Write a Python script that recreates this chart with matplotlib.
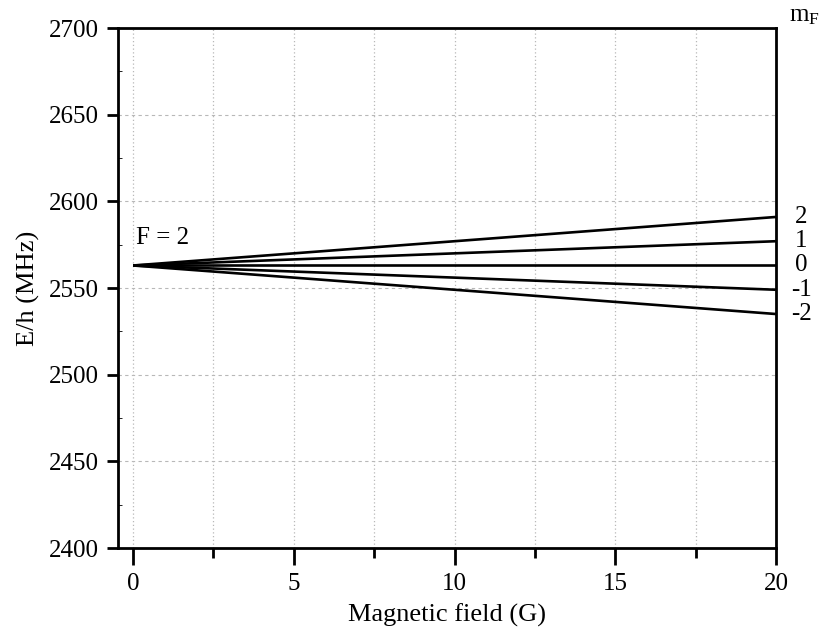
import numpy as np
import matplotlib
matplotlib.use("Agg")
import matplotlib.pyplot as plt
from matplotlib.ticker import MultipleLocator

plt.rcParams['font.family'] = ['Liberation Serif', 'DejaVu Serif']
plt.rcParams['mathtext.fontset'] = 'stix'

# Zeeman splitting of the F = 2 level: energy at B = 0 and B = 20 G
field = [0, 20]
m_F = [2, 1, 0, -1, -2]
energy_start = [2563, 2563, 2563, 2563, 2563]
energy_end = [2591, 2577, 2563, 2549, 2535]

fig = plt.figure(figsize=(8.2, 6.37), dpi=100)
ax = fig.add_axes([0.1439, 0.1397, 0.8024, 0.8163])

for m, e0, e1 in zip(m_F, energy_start, energy_end):
    ax.plot(field, [e0, e1], color='black', lw=1.9, solid_capstyle='butt')
    ax.text(20.78, e1, str(m), fontsize=18, va='center', ha='center',
            clip_on=False)

ax.text(20.4, 2703.5, r'm$_{\mathregular{F}}$', fontsize=18, ha='left',
        va='baseline', clip_on=False)
ax.text(0.1, 2575.5, 'F = 2', fontsize=18)

ax.set_xlim(-0.47, 20)
ax.set_ylim(2400, 2700)
ax.xaxis.set_major_locator(MultipleLocator(5))
ax.xaxis.set_minor_locator(MultipleLocator(2.5))
ax.yaxis.set_major_locator(MultipleLocator(50))
ax.yaxis.set_minor_locator(MultipleLocator(25))

ax.grid(True, axis='x', which='both', color='#b8b8b8', ls=(0, (1, 2)), lw=0.9)
ax.grid(True, axis='y', which='major', color='#b8b8b8', ls=(0, (3, 3)), lw=0.8)
ax.set_axisbelow(True)

for s in ax.spines.values():
    s.set_linewidth(2.0)
ax.tick_params(axis='both', which='major', direction='out', width=2.0,
               labelsize=18, pad=6)
ax.tick_params(axis='x', which='major', length=12)
ax.tick_params(axis='y', which='major', length=8)
ax.tick_params(axis='x', which='minor', direction='out', length=7, width=2.0)
ax.tick_params(axis='y', which='minor', direction='in', length=3, width=0.6)

ax.set_xlabel('Magnetic field (G)', fontsize=19, labelpad=6)
ax.set_ylabel('E/h (MHz)', fontsize=19, labelpad=6)

fig.savefig('out.png', dpi=100)
